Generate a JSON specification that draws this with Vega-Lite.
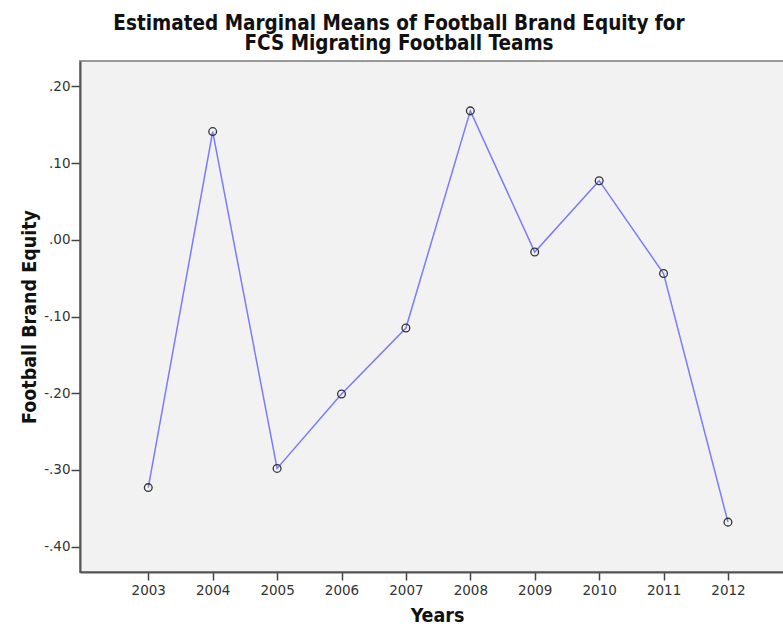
{
  "$schema": "https://vega.github.io/schema/vega-lite/v6.json",
  "autosize": {"type": "none"},
  "width": 704,
  "height": 511,
  "padding": {"left": 80, "top": 61, "right": 0, "bottom": 56},
  "background": "#ffffff",
  "config": {
    "view": {"fill": "#f2f2f2", "stroke": "#9a9a9a", "strokeWidth": 2},
    "font": "DejaVu Sans"
  },
  "title": {
    "text": ["Estimated Marginal Means of Football Brand Equity for", "FCS Migrating Football Teams"],
    "font": "DejaVu Sans Condensed",
    "fontSize": 20.5,
    "fontWeight": "bold",
    "color": "#111111",
    "lineHeight": 19.5,
    "anchor": "middle",
    "dx": -33,
    "offset": 7
  },
  "data": {
    "values": [
      {"year": 2003, "equity": -0.323},
      {"year": 2004, "equity": 0.141},
      {"year": 2005, "equity": -0.298},
      {"year": 2006, "equity": -0.201},
      {"year": 2007, "equity": -0.115},
      {"year": 2008, "equity": 0.168},
      {"year": 2009, "equity": -0.016},
      {"year": 2010, "equity": 0.077},
      {"year": 2011, "equity": -0.044},
      {"year": 2012, "equity": -0.368}
    ]
  },
  "encoding": {
    "x": {
      "field": "year",
      "type": "quantitative",
      "scale": {"domain": [2001.94, 2012.87], "nice": false, "zero": false},
      "axis": {
        "title": "Years",
        "titleFont": "DejaVu Sans Condensed",
        "titleFontSize": 19.5,
        "titleFontWeight": "bold",
        "titleColor": "#111111",
        "titleX": 357,
        "titlePadding": 10,
        "values": [2003, 2004, 2005, 2006, 2007, 2008, 2009, 2010, 2011, 2012],
        "format": "d",
        "labelFont": "DejaVu Sans",
        "labelFontSize": 13.5,
        "labelColor": "#333333",
        "labelPadding": 3,
        "tickSize": 8,
        "tickColor": "#444444",
        "tickWidth": 1.5,
        "domainColor": "#555555",
        "domainWidth": 2,
        "grid": false
      }
    },
    "y": {
      "field": "equity",
      "type": "quantitative",
      "scale": {"domain": [-0.433, 0.233], "nice": false, "zero": false},
      "axis": {
        "title": "Football Brand Equity",
        "titleFont": "DejaVu Sans Condensed",
        "titleFontSize": 19.5,
        "titleFontWeight": "bold",
        "titleColor": "#111111",
        "titlePadding": 4,
        "values": [-0.4, -0.3, -0.2, -0.1, 0, 0.1, 0.2],
        "labelExpr": "(datum.value < 0 ? '-' : '') + replace(format(abs(datum.value), '.2f'), '0.', '.')",
        "labelFont": "DejaVu Sans",
        "labelFontSize": 13.5,
        "labelColor": "#333333",
        "labelPadding": 1,
        "labelBaseline": "middle",
        "tickSize": 9,
        "tickColor": "#444444",
        "tickWidth": 1.5,
        "domainColor": "#555555",
        "domainWidth": 2,
        "grid": false
      }
    }
  },
  "layer": [
    {
      "mark": {"type": "line", "color": "#7b7bff", "strokeWidth": 1.5}
    },
    {
      "mark": {"type": "point", "shape": "circle", "filled": false, "size": 60, "stroke": "#333333", "strokeWidth": 1.3, "opacity": 1}
    }
  ]
}
